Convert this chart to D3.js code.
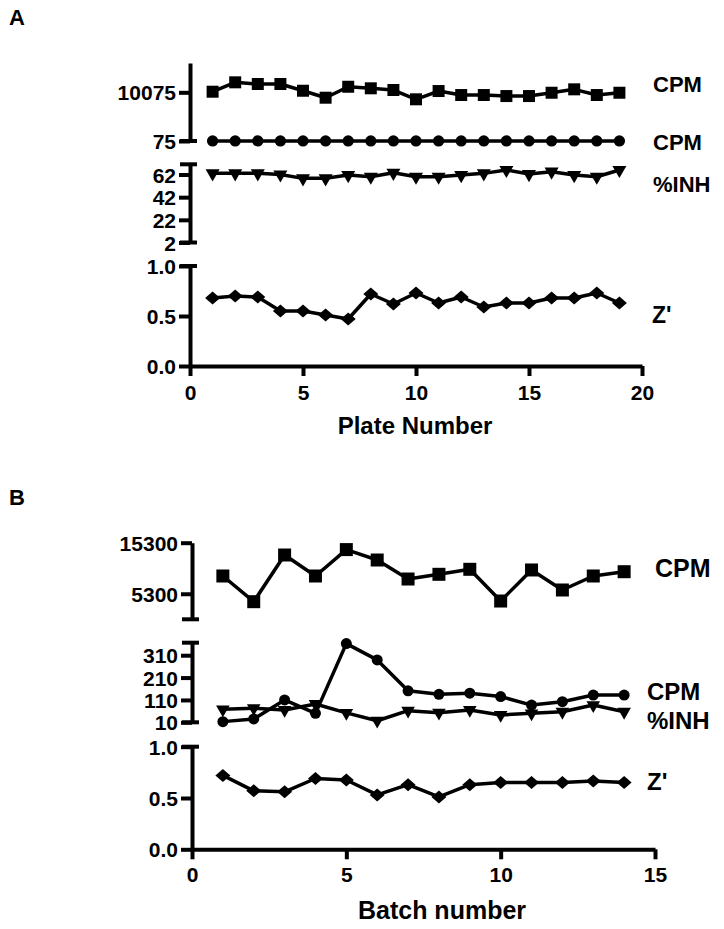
<!DOCTYPE html>
<html><head><meta charset="utf-8">
<script src="https://cdn.jsdelivr.net/npm/d3@7"></script>
<style>
body{margin:0;background:#fff;}
svg text{font-family:"Liberation Sans",Arial,Helvetica,sans-serif;font-weight:bold;fill:#000;}
</style></head>
<body><svg id="chart" width="724" height="929"></svg>
<script>
// ---------- Panel A data ----------
const plateNumbers = [1,2,3,4,5,6,7,8,9,10,11,12,13,14,15,16,17,18,19];
const aCpmHigh = [10200,12130,11780,11780,10400,8970,11220,10900,10550,8640,10340,9520,9520,9310,9310,9990,10690,9520,9990];
const aCpmLow  = [90,85,95,88,92,86,90,94,89,91,87,93,90,88,92,89,91,90,88];
const aInh     = [63,63,63,62,58.6,58.6,61.5,60,63.5,60,60,61.5,63,66,62.4,64.5,61.5,60,66];
const aZ       = [0.68,0.70,0.69,0.55,0.55,0.51,0.47,0.72,0.62,0.73,0.63,0.69,0.59,0.63,0.63,0.68,0.68,0.73,0.63];
const aXTicks = [0,5,10,15,20];
const aCpmTicks = [75,10075];
const aInhTicks = [2,22,42,62];
const zTicks = [0,0.5,1.0];

// ---------- Panel B data ----------
const batchNumbers = [1,2,3,4,5,6,7,8,9,10,11,12,13,14];
const bCpmHigh = [8780,3750,12890,8780,13950,11910,8190,9110,10090,3880,9960,6040,8780,9620];
const bCpmLow  = [13,25,110,50,362,289,151,135,140,125,87,102,132,132];
const bInh     = [68,73,65,92,52,17,62,53,65,43,50,57,87,57];
const bZ       = [0.72,0.57,0.56,0.69,0.675,0.53,0.63,0.51,0.63,0.65,0.65,0.65,0.665,0.65];
const bXTicks = [0,5,10,15];
const bCpmTicks = [5300,15300];
const bLowTicks = [10,110,210,310];

const svg = d3.select("#chart");
const fmtZ = d3.format(".1f");

function diamondPath(w,h){ return `M0,${-h/2}L${w/2},0L0,${h/2}L${-w/2},0Z`; }

function drawYAxis(g, y, ticks, fmt, fs, capTop, capBottom){
  const ax = d3.axisLeft(y).tickValues(ticks).tickSize(11).tickSizeOuter(0).tickPadding(3);
  if (fmt) ax.tickFormat(fmt);
  const a = g.append("g").call(ax);
  a.select(".domain").attr("stroke-width",4).attr("stroke","#000");
  a.selectAll(".tick line").attr("stroke-width",4).attr("stroke","#000");
  a.selectAll(".tick text").style("font-size",fs+"px").attr("dy","0.36em");
  const [d0,d1] = y.domain();
  const caps = [];
  if (capTop) caps.push(d1);
  if (capBottom) caps.push(d0);
  a.selectAll(".cap").data(caps).join("line")
    .attr("x1",-10).attr("x2",7).attr("y1",d=>y(d)).attr("y2",d=>y(d))
    .attr("stroke","#000").attr("stroke-width",4);
  return a;
}

function drawXAxis(g, x, yPos, ticks, fs, pad){
  const a = g.append("g").attr("transform",`translate(0,${yPos})`)
    .call(d3.axisBottom(x).tickValues(ticks).tickSize(10).tickSizeOuter(0).tickPadding(pad));
  a.select(".domain").attr("stroke-width",4).attr("stroke","#000");
  a.selectAll(".tick line").attr("stroke-width",4).attr("stroke","#000");
  a.selectAll(".tick text").style("font-size",fs+"px");
}

function drawSeries(g, xs, vals, x, y, marker, lw){
  const pts = xs.map((d,i)=>[d, vals[i]]);
  g.append("path").datum(pts)
    .attr("fill","none").attr("stroke","#000").attr("stroke-width",lw).attr("stroke-linejoin","round")
    .attr("d", d3.line().x(d=>x(d[0])).y(d=>y(d[1])));
  g.selectAll(null).data(pts).join("path")
    .attr("transform", d=>`translate(${x(d[0])},${y(d[1])})${marker.rot?` rotate(${marker.rot})`:""}`)
    .attr("d", marker.path).attr("fill","#000");
}

function label(txt, xPos, yPos, fs, anchor){
  svg.append("text").attr("x",xPos).attr("y",yPos).attr("text-anchor",anchor||"start")
    .style("font-size",fs+"px").text(txt);
}

// ================= Panel A =================
{
  const g = svg.append("g").attr("class","panelA");
  const x = d3.scaleLinear().domain([0,20]).range([190,642]);
  const yC = d3.scaleLinear().domain([75,16100]).range([141,63]);
  const yI = d3.scaleLinear().domain([2,71]).range([242.5,164.3]);
  const yZ = d3.scaleLinear().domain([0,1]).range([366,266]);

  const ax = g.append("g").attr("transform","translate(190,0)");
  drawYAxis(ax, yC, aCpmTicks, d3.format("d"), 21, false, true);
  drawYAxis(ax, yI, aInhTicks, d3.format("d"), 21, true, true);
  drawYAxis(ax, yZ, zTicks, fmtZ, 21, true, false);
  drawXAxis(g, x, 366, aXTicks, 21, 9);

  const sq = {path: d3.symbol(d3.symbolSquare, 144)()};
  const ci = {path: d3.symbol(d3.symbolCircle, 100)()};
  const tr = {path: d3.symbol(d3.symbolTriangle, 85)(), rot:180};
  const di = {path: diamondPath(15,13)};
  drawSeries(g, plateNumbers, aCpmHigh, x, yC, sq, 3.5);
  drawSeries(g, plateNumbers, aCpmLow, x, yC, ci, 3.5);
  drawSeries(g, plateNumbers, aInh, x, yI, tr, 3.5);
  drawSeries(g, plateNumbers, aZ, x, yZ, di, 3.5);

  label("CPM", 653, 92, 22);
  label("CPM", 653, 150, 22);
  label("%INH", 653, 191.5, 22);
  label("Z'", 652, 323, 23);
  label("Plate Number", 415, 434, 24, "middle");
  label("A", 9, 25, 22);
}

// ================= Panel B =================
{
  const g = svg.append("g").attr("class","panelB");
  const x = d3.scaleLinear().domain([0,15]).range([192,655]);
  const yC = d3.scaleLinear().domain([300,15300]).range([619.3,542.7]);
  const yL = d3.scaleLinear().domain([10,366]).range([722.3,642.7]);
  const yZ = d3.scaleLinear().domain([0,1]).range([849.3,746.7]);

  const ax = g.append("g").attr("transform","translate(192,0)");
  drawYAxis(ax, yC, bCpmTicks, d3.format("d"), 21, false, true);
  drawYAxis(ax, yL, bLowTicks, d3.format("d"), 21, true, true);
  drawYAxis(ax, yZ, zTicks, fmtZ, 21, true, false);
  drawXAxis(g, x, 849.3, bXTicks, 21, 8);

  const sq = {path: d3.symbol(d3.symbolSquare, 169)()};
  const ci = {path: d3.symbol(d3.symbolCircle, 95)()};
  const tr = {path: d3.symbol(d3.symbolTriangle, 80)(), rot:180};
  const di = {path: diamondPath(15,13)};
  drawSeries(g, batchNumbers, bCpmHigh, x, yC, sq, 3.5);
  drawSeries(g, batchNumbers, bCpmLow, x, yL, ci, 3.5);
  drawSeries(g, batchNumbers, bInh, x, yL, tr, 3.5);
  drawSeries(g, batchNumbers, bZ, x, yZ, di, 3.5);

  label("CPM", 655, 577, 25);
  label("CPM", 647, 699.5, 24);
  label("%INH", 647, 729, 24);
  label("Z'", 647, 790, 24);
  label("Batch number", 442, 919, 25, "middle");
  label("B", 9, 505, 22);
}
</script></body></html>
